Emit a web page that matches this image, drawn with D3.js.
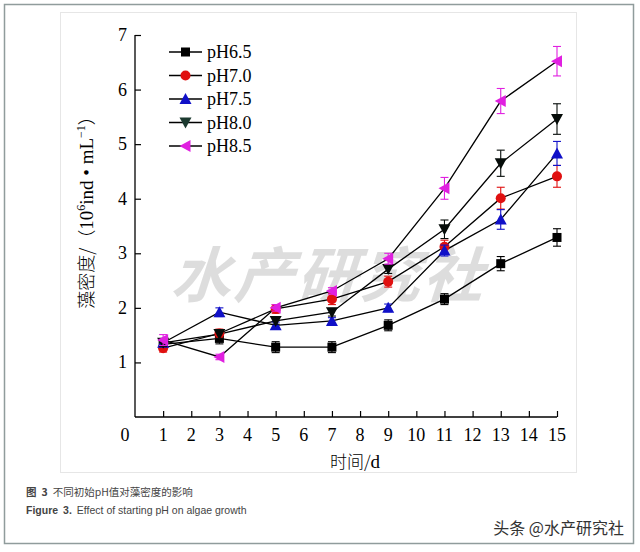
<!DOCTYPE html>
<html><head><meta charset="utf-8">
<script src="https://cdn.jsdelivr.net/npm/d3@7"></script>
<style>body{margin:0;background:#fff}svg{display:block}</style>
</head><body>
<script>
const days = [1,3,5,7,9,11,13,15];
const seriesNames = ["pH6.5","pH7.0","pH7.5","pH8.0","pH8.5"];
const pH65 = [1.33,1.44,1.28,1.28,1.68,2.16,2.81,3.29];
const pH70 = [1.26,1.53,1.98,2.16,2.48,3.12,4.01,4.41];
const pH75 = [1.36,1.92,1.68,1.76,2.0,3.05,3.62,4.83];
const pH80 = [1.36,1.52,1.76,1.92,2.71,3.44,4.65,5.46];
const pH85 = [1.41,1.10,2.0,2.31,2.9,4.19,5.79,6.52];
const err65 = [0.08,0.1,0.1,0.1,0.1,0.1,0.13,0.16];
const err70 = [0.07,0.08,0.08,0.1,0.1,0.12,0.2,0.2];
const err75 = [0.07,0.08,0.06,0.06,0.07,0.1,0.18,0.22];
const err80 = [0.07,0.08,0.06,0.07,0.08,0.17,0.24,0.28];
const err85 = [0.1,0.05,0.06,0.06,0.1,0.2,0.23,0.27];
const xTicks = [0,1,2,3,4,5,6,7,8,9,10,11,12,13,14,15];
const yTicks = [1,2,3,4,5,6,7];

const values = [pH65,pH70,pH75,pH80,pH85];
const errs = [err65,err70,err75,err80,err85];
const colors = ["#000000","#e01010","#1010c8","#060c09","#e020e0"];
const shapes = ["square","circle","up","down","left"];

const W=640,H=552;
const svg = d3.select("body").append("svg").attr("width",W).attr("height",H);
svg.append("rect").attr("x",0).attr("y",0).attr("width",W).attr("height",H).attr("fill","#fff");
svg.append("rect").attr("x",4.5).attr("y",4.5).attr("width",629).attr("height",539)
  .attr("fill","#fff").attr("stroke","#909c9c").attr("stroke-width",1.5);
svg.append("rect").attr("x",60.5).attr("y",12.5).attr("width",516).attr("height",460)
  .attr("fill","#fff").attr("stroke","#e6e6e6").attr("stroke-width",1);

const x = d3.scaleLinear().domain([0,15]).range([135,557]);
const y = d3.scaleLinear().domain([0,7]).range([417,35]);

// watermark
const wm = svg.append("g").attr("fill","#c8c8c8").attr("opacity",0.6)
  .attr("font-family","'Noto Sans CJK SC'").attr("font-weight","bold").attr("font-size",60);
["水","产","研","究","社"].forEach((c,i)=>{
  wm.append("text").attr("transform",`translate(${200+i*63},297) skewX(-18)`)
    .attr("text-anchor","middle").text(c);
});

const serif = "'Liberation Serif','Times New Roman',serif";
// axes
const yAxis = d3.axisRight(y).tickValues(yTicks).tickSize(6).tickFormat("");
const gy = svg.append("g").attr("transform",`translate(${x(0)},0)`).call(yAxis);
gy.select(".domain").remove();
gy.selectAll("line").attr("stroke","#000").attr("stroke-width",1.2);
svg.append("line").attr("x1",x(0)).attr("x2",x(0)).attr("y1",y(7)).attr("y2",y(0)).attr("stroke","#000").attr("stroke-width",1.3);
yTicks.forEach(t=>{
  svg.append("text").attr("x",127).attr("y",y(t)+6).attr("text-anchor","end")
    .attr("font-family",serif).attr("font-size",18).text(t);
});
const xAxis = d3.axisTop(x).tickValues(xTicks.slice(1)).tickSize(6).tickFormat("");
const gx = svg.append("g").attr("transform",`translate(0,${y(0)})`).call(xAxis);
gx.select(".domain").remove();
gx.selectAll("line").attr("stroke","#000").attr("stroke-width",1.2);
svg.append("line").attr("x1",x(0)).attr("x2",x(15)).attr("y1",y(0)).attr("y2",y(0)).attr("stroke","#000").attr("stroke-width",1.3);
xTicks.forEach(t=>{
  svg.append("text").attr("x",t===0?125:x(t)).attr("y",441).attr("text-anchor","middle")
    .attr("font-family",serif).attr("font-size",18).text(t);
});
// axis titles
const xt = svg.append("text").attr("x",355).attr("y",468).attr("text-anchor","middle")
  .attr("font-family","'Noto Sans CJK SC'").attr("font-weight",300).attr("font-size",17);
xt.append("tspan").text("时间/");
xt.append("tspan").attr("font-family",serif).attr("font-size",19).text("d");
const yt = svg.append("text").attr("transform","translate(93,208) rotate(-90)")
  .attr("text-anchor","middle").attr("font-family","'Noto Sans CJK SC'").attr("font-weight",300).attr("font-size",18);
yt.append("tspan").text("藻密度/（");
yt.append("tspan").attr("font-family",serif).attr("font-size",19).text("10");
yt.append("tspan").attr("font-size",12).attr("dy",-8).attr("font-family",serif).text("6");
yt.append("tspan").attr("dy",8).attr("font-family",serif).attr("font-size",19).text("ind • mL");
yt.append("tspan").attr("font-size",12).attr("dy",-8).attr("font-family",serif).text("−1");
yt.append("tspan").attr("dy",8).text("）");

function marker(g, shape, cx, cy, color){
  const s = 5;
  if(shape==="square") g.append("rect").attr("x",cx-4.5).attr("y",cy-4.5).attr("width",9).attr("height",9).attr("fill",color);
  else if(shape==="circle") g.append("circle").attr("cx",cx).attr("cy",cy).attr("r",5).attr("fill",color);
  else {
    let pts;
    if(shape==="up") pts=[[cx,cy-s-1],[cx-s-1,cy+s],[cx+s+1,cy+s]];
    if(shape==="down") pts=[[cx,cy+s+1],[cx-s-1,cy-s],[cx+s+1,cy-s]];
    if(shape==="left") pts=[[cx-s-1,cy],[cx+s,cy-s-1],[cx+s,cy+s+1]];
    g.append("polygon").attr("points",pts.map(p=>p.join(",")).join(" ")).attr("fill",color);
  }
}

const line = d3.line().x(d=>x(d[0])).y(d=>y(d[1]));
values.forEach((vals,i)=>{
  svg.append("path").attr("d",line(days.map((d,j)=>[d,vals[j]])))
    .attr("fill","none").attr("stroke","#000").attr("stroke-width",1.3);
});
values.forEach((vals,i)=>{
  const g = svg.append("g");
  days.forEach((d,j)=>{
    const cx=x(d), e=errs[i][j];
    const y1=y(vals[j]+e), y2=y(vals[j]-e);
    g.append("line").attr("x1",cx).attr("x2",cx).attr("y1",y1).attr("y2",y2).attr("stroke",colors[i]).attr("stroke-width",1.1);
    [y1,y2].forEach(yy=>g.append("line").attr("x1",cx-4).attr("x2",cx+4).attr("y1",yy).attr("y2",yy).attr("stroke",colors[i]).attr("stroke-width",1.1));
    marker(g, shapes[i], cx, y(vals[j]), colors[i]);
  });
});

// legend
seriesNames.forEach((n,i)=>{
  const ly = 52 + i*23.5;
  const g = svg.append("g");
  g.append("line").attr("x1",169).attr("x2",202).attr("y1",ly).attr("y2",ly).attr("stroke","#000").attr("stroke-width",1.3);
  marker(g, shapes[i], 185.5, ly, i===3 ? "#1c3a30" : colors[i]);
  g.append("text").attr("x",207).attr("y",ly+6).attr("font-family",serif).attr("font-size",18).text(n);
});

// captions
const c1 = svg.append("text").attr("x",26).attr("y",496).attr("font-family","'Noto Sans CJK SC'").attr("font-size",10.5).attr("fill","#444");
c1.append("tspan").attr("font-weight","bold").text("图");
c1.append("tspan").attr("font-weight","bold").attr("dx",5).text("3");
c1.append("tspan").attr("dx",5).text("不同初始pH值对藻密度的影响");
const c2 = svg.append("text").attr("x",26).attr("y",514).attr("font-family","'Liberation Sans',Arial,sans-serif").attr("font-size",10.5).attr("fill","#444");
c2.append("tspan").attr("font-weight","bold").text("Figure");
c2.append("tspan").attr("font-weight","bold").attr("dx",5).text("3.");
c2.append("tspan").attr("dx",5).text("Effect of starting pH on algae growth");
svg.append("text").attr("x",624).attr("y",534).attr("text-anchor","end")
  .attr("font-family","'Noto Sans CJK SC'").attr("font-size",16).attr("fill","#333").text("头条 @水产研究社");
</script>
</body></html>
